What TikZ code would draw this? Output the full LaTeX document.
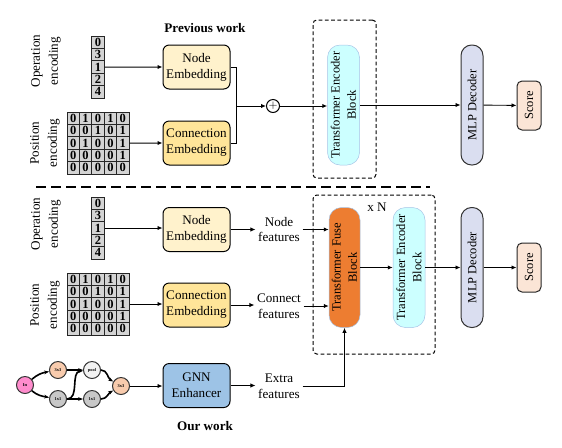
\documentclass[tikz,border=0pt]{standalone}
\usepackage{fontspec}
\setmainfont{Liberation Serif}
\usepackage{tikz}
\usetikzlibrary{arrows.meta,positioning,fit,calc}
\definecolor{embyellow}{RGB}{255,242,204}
\definecolor{conyellow}{RGB}{255,229,153}
\definecolor{encblue}{RGB}{204,255,255}
\definecolor{pillrim}{RGB}{165,195,230}
\definecolor{fuseorange}{RGB}{237,125,49}
\definecolor{mlpgray}{RGB}{218,222,240}
\definecolor{scorepeach}{RGB}{251,229,214}
\definecolor{gnnblue}{RGB}{157,195,230}
\definecolor{cellgray}{RGB}{212,212,212}
\definecolor{inpink}{RGB}{255,140,205}
\definecolor{oppeach}{RGB}{248,203,173}
\definecolor{opgray}{RGB}{200,200,200}
\definecolor{poolwhite}{RGB}{242,242,242}
\newcommand{\pxu}{0.8pt}

\begin{document}
\begin{tikzpicture}[x=0.8pt,y=-0.8pt,>={Latex[length=4pt,width=3.5pt]}]
  \tikzstyle{embed}=[rectangle,draw,thick,rounded corners=5pt,minimum width=67*\pxu,minimum height=44*\pxu,align=center,inner sep=1pt,font=\fontsize{10.5}{12.8}\selectfont]
  \tikzstyle{pill}=[rectangle,rotate=90,rounded corners=10pt,minimum width=120*\pxu,minimum height=32*\pxu,inner sep=0pt,align=center,font=\fontsize{10}{13}\selectfont]
  \tikzstyle{scorebox}=[rectangle,rotate=90,draw=black!85,thick,fill=scorepeach,rounded corners=4pt,minimum width=49*\pxu,minimum height=24*\pxu,inner sep=0pt,font=\fontsize{10}{12}\selectfont]
  \tikzstyle{cell}=[rectangle,draw=black!85,line width=0.8pt,fill=cellgray,minimum width=12.4*\pxu,minimum height=12.4*\pxu,inner sep=0pt,font=\fontsize{10}{10}\selectfont\bfseries]
  \tikzstyle{enclabel}=[rotate=90,align=center,font=\fontsize{10.5}{14.4}\selectfont]
  \tikzstyle{feat}=[align=center,inner sep=2pt,font=\fontsize{10.5}{12.5}\selectfont]
  \tikzstyle{frame}=[draw,densely dashed,thick,rounded corners=3pt,inner sep=0pt]
  \tikzstyle{gnode}=[circle,draw=black!80,thick,minimum size=17*\pxu,inner sep=0pt,font=\fontsize{3.5}{3.5}\selectfont\bfseries]
  \tikzstyle{gedge}=[line width=1.3pt,-{Stealth[length=4pt]}]
  \tikzstyle{arr}=[->,line width=0.7pt]
  \tikzstyle{title}=[font=\fontsize{10.5}{12}\selectfont\bfseries]
  \useasboundingbox (0,0) rectangle (562,447);

  % encodings: operation vectors and position matrices
  \foreach \oy/\tag in {36/t,197/b}
    \foreach \v [count=\r] in {0,3,1,2,4}
      \node[cell] (v\tag-\r) at (98,{\oy+12.4*(\r-0.5)}) {\v};
  \foreach \oy/\tag in {112/t,273/b}
    \foreach \row [count=\r] in {{0,1,0,1,0},{0,0,1,0,1},{0,1,0,0,1},{0,0,0,0,1},{0,0,0,0,0}}
      \foreach \v [count=\c] in \row
        \node[cell] (p\tag-\r-\c) at ({67+12.4*(\c-0.5)},{\oy+12.4*(\r-0.5)}) {\v};

  % previous work
  \node[title] (prevtitle) at (205,28) {Previous work};
  \node[enclabel] (oplabt) at (46,61) {Operation\\encoding};
  \node[enclabel] (poslabt) at (45,143) {Position\\encoding};
  \node[embed,fill=embyellow] (nembt) at (196.5,67) {Node\\Embedding};
  \node[embed,fill=conyellow] (cembt) at (196.5,143) {Connection\\Embedding};
  \draw[arr,thick] (vt-3) -- (nembt);
  \draw[arr,thick] (pt-3-5) -- (cembt);
  \coordinate (joint) at (236,106);
  \node[circle,draw,thick,inner sep=0pt,minimum size=13*\pxu,font=\fontsize{9}{9}\selectfont] (plus) at (273,106) {$+$};
  \draw[thick] (nembt.east) -| (joint);
  \draw[thick] (cembt.east) -| (joint);
  \draw[arr,thick] (joint) -- (plus);
  \node[frame,fit={(313,20) (376,178)}] (topframe) {};
  \node[pill,fill=encblue,draw=pillrim] (enct) at (343.5,105) {Transformer Encoder\\Block};
  \draw[arr,thick] (plus) -- (plus -| enct.north);
  \node[pill,minimum height=22*\pxu,rounded corners=8.5pt,fill=mlpgray,draw=black!80,thick] (mlpt) at (472,105) {MLP Decoder};
  \node[scorebox] (scoret) at (529,105.5) {Score};
  \draw[arr] (enct) -- (mlpt);
  \draw[arr] (mlpt) -- (scoret);

  \draw[line width=1.2pt,dash pattern=on 8pt off 4pt] (36,187) -- (430,187);

  % our work
  \node[enclabel] (oplabb) at (46,224) {Operation\\encoding};
  \node[enclabel] (poslabb) at (45,305) {Position\\encoding};
  \node[embed,fill=embyellow] (nembb) at (196.5,229.5) {Node\\Embedding};
  \node[embed,fill=conyellow] (cembb) at (196.5,305) {Connection\\Embedding};
  \node[embed,fill=gnnblue] (gnn) at (196.5,385.5) {GNN\\Enhancer};
  \draw[arr] (vb-3) -- (vb-3 -| nembb.west);
  \draw[arr] (pb-3-5) -- (pb-3-5 -| cembb.west);
  \node[feat] (nfeat) at (279,229.5) {Node\\features};
  \node[feat] (cfeat) at (279,306) {Connect\\features};
  \node[feat] (xfeat) at (279,386) {Extra\\features};
  \draw[arr] (nembb) -- (nembb -| nfeat.west);
  \draw[arr] (cembb) -- (cembb -| cfeat.west);
  \draw[arr] (gnn) -- (gnn -| xfeat.west);

  \node[frame,fit={(313,195) (435,354)}] (botframe) {};
  \node[font=\fontsize{10.5}{12}\selectfont] (times) at (377,207) {x N};
  \node[pill,minimum height=31*\pxu,fill=fuseorange,draw=pillrim] (fuse) at (344.5,267.5) {Transformer Fuse\\Block};
  \node[pill,fill=encblue,draw=pillrim] (encb) at (409,267.5) {Transformer Encoder\\Block};
  \node[pill,minimum height=22*\pxu,rounded corners=8.5pt,fill=mlpgray,draw=black!80,thick] (mlpb) at (472,267.5) {MLP Decoder};
  \node[scorebox] (scoreb) at (529,267.5) {Score};
  \draw[arr] (nfeat) -- (nfeat -| fuse.north);
  \draw[arr] (cfeat) -- (cfeat -| fuse.north);
  \draw[arr] (xfeat.east) -| (fuse.west);
  \draw[arr] (fuse) -- (encb);
  \draw[arr] (encb) -- (mlpb);
  \draw[arr] (mlpb) -- (scoreb);

  % cell graph fed to the GNN
  \node[gnode,fill=inpink] (gin) at (25,385) {In};
  \node[gnode,fill=oppeach] (gc3) at (58,370) {3x3};
  \node[gnode,fill=opgray] (gc1) at (58,399) {1x1};
  \node[gnode,fill=poolwhite] (gpool) at (92,370) {pool};
  \node[gnode,fill=opgray] (gd1) at (92,399) {1x1};
  \node[gnode,fill=oppeach] (gout) at (121,386) {3x3};
  \draw[gedge] (gin) to[out=40,in=190] (gc3);
  \draw[gedge] (gin) to[out=-40,in=170] (gc1);
  \draw[gedge] (gc3) -- (gpool);
  \draw[gedge] (gc1) to[out=0,in=185] (gpool);
  \draw[gedge] (gc1) -- (gd1);
  \draw[gedge] (gpool) to[out=0,in=150] (gout);
  \draw[gedge] (gd1) to[out=0,in=210] (gout);
  \draw[arr] (gout) -- (gout -| gnn.west);

  \node[title] (ourtitle) at (205,426) {Our work};
\end{tikzpicture}
\end{document}
